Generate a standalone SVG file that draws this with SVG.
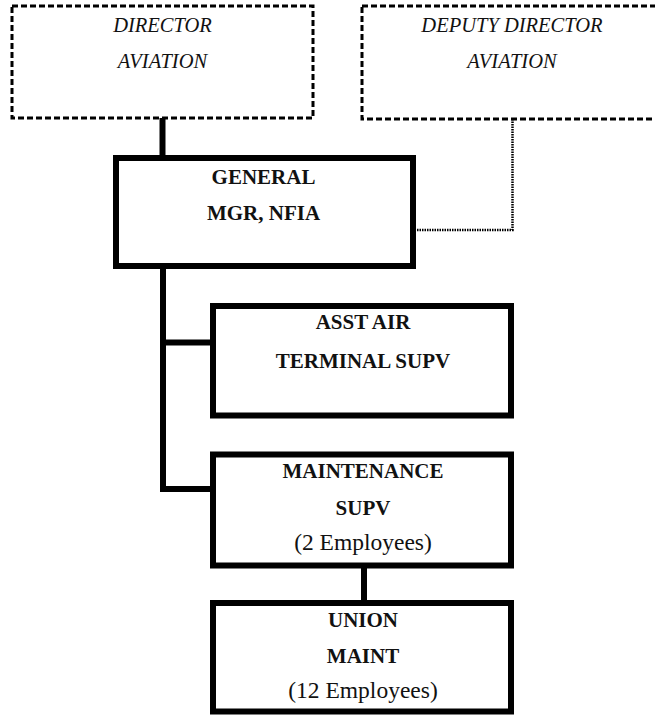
<svg xmlns="http://www.w3.org/2000/svg" width="655" height="715" viewBox="0 0 655 715">
  <style>
    .dashed { fill: #fff; stroke: #000; stroke-width: 3; stroke-dasharray: 6 3; }
    .solid { fill: #fff; stroke: #000; stroke-width: 6; }
    .link { fill: none; stroke: #000; stroke-width: 6; }
    .dotted { fill: none; stroke: #000; stroke-width: 2.5; stroke-dasharray: 1.5 1; }
    .it { font-style: italic; font-size: 20.5px; }
    .bd { font-weight: bold; font-size: 21px; }
    .rg { font-size: 23.5px; }
  </style>
  <rect width="655" height="715" fill="#fff"/>

  <!-- reporting lines -->
  <g id="connectors">
    <line class="link" x1="162.5" y1="118" x2="162.5" y2="158"/>
    <polyline class="dotted" points="512.5,119 512.5,230 416,230"/>
    <line class="link" x1="163" y1="266" x2="163" y2="492"/>
    <line class="link" x1="163" y1="342.5" x2="213" y2="342.5"/>
    <line class="link" x1="160" y1="489" x2="213" y2="489"/>
    <line class="link" x1="364" y1="565" x2="364" y2="603"/>
  </g>

  <g font-family="Liberation Serif, Times New Roman, serif" text-anchor="middle" fill="#111">
    <g id="director">
      <rect class="dashed" x="12" y="6" width="301" height="112"/>
      <text class="it" x="162.5" y="32" fill="#111">DIRECTOR</text>
      <text class="it" x="162.5" y="68" fill="#111">AVIATION</text>
    </g>

    <g id="deputy-director">
      <rect class="dashed" x="362" y="6" width="300" height="113"/>
      <text class="it" x="512" y="32" fill="#111">DEPUTY DIRECTOR</text>
      <text class="it" x="512" y="68" fill="#111">AVIATION</text>
    </g>

    <g id="general-mgr">
      <rect class="solid" x="116" y="158" width="297" height="108"/>
      <text class="bd" x="263.5" y="184" fill="#111">GENERAL</text>
      <text class="bd" x="263.5" y="220" fill="#111">MGR, NFIA</text>
    </g>

    <g id="asst-terminal-supv">
      <rect class="solid" x="213" y="306" width="298" height="109.5"/>
      <text class="bd" x="363" y="329" fill="#111">ASST AIR</text>
      <text class="bd" x="363" y="368" fill="#111">TERMINAL SUPV</text>
    </g>

    <g id="maintenance-supv">
      <rect class="solid" x="213" y="454.5" width="298" height="111"/>
      <text class="bd" x="363" y="478" fill="#111">MAINTENANCE</text>
      <text class="bd" x="363" y="515" fill="#111">SUPV</text>
      <text class="rg" x="363" y="550" fill="#111">(2 Employees)</text>
    </g>

    <g id="union-maint">
      <rect class="solid" x="213" y="603" width="298" height="108.5"/>
      <text class="bd" x="363" y="627" fill="#111">UNION</text>
      <text class="bd" x="363" y="663" fill="#111">MAINT</text>
      <text class="rg" x="363" y="698" fill="#111">(12 Employees)</text>
    </g>
  </g>
</svg>
